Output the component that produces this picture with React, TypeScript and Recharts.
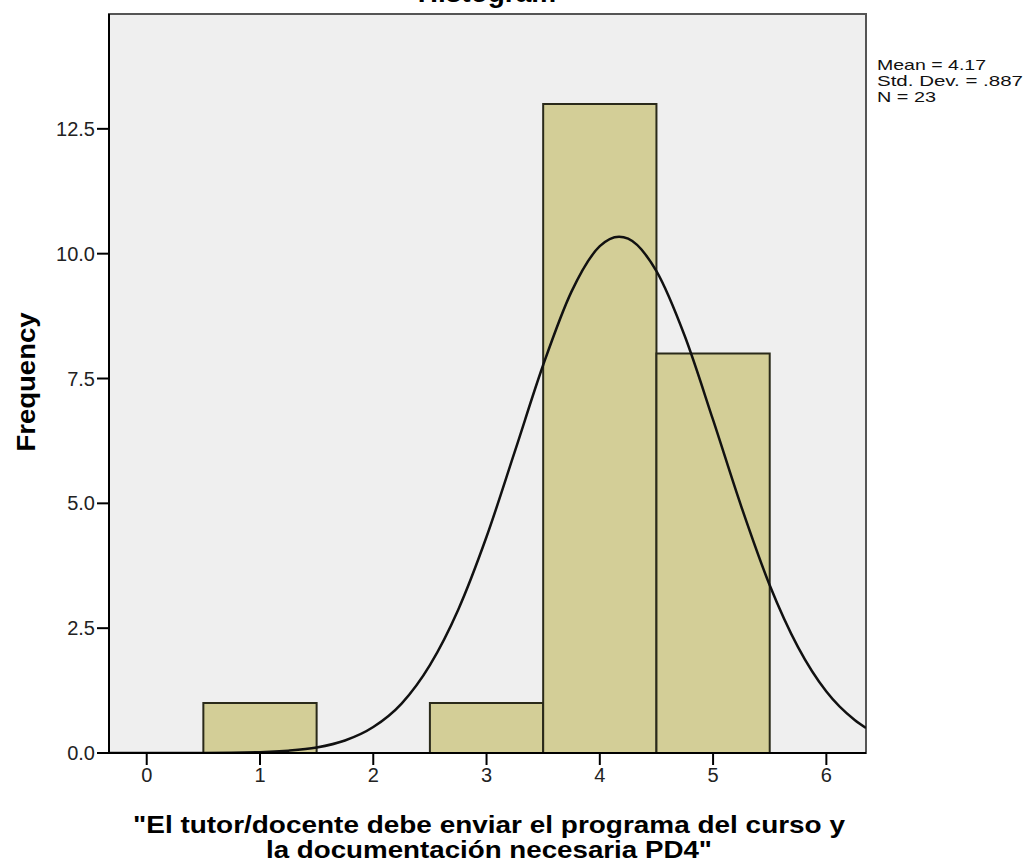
import React from "react";
import {
  ComposedChart,
  Line,
  XAxis,
  YAxis,
  ReferenceArea,
} from "recharts";

// histogram bins (bin centre, count)
const binCenters = [1, 3, 4, 5];
const binCounts = [1, 1, 13, 8];

// normal curve
const curveX = [
  -0.33, 0, 0.5, 1, 1.25, 1.5, 1.75, 2, 2.25, 2.5, 2.75, 3, 3.25, 3.5, 3.75, 4,
  4.17, 4.25, 4.5, 4.75, 5, 5.25, 5.5, 5.75, 6, 6.25, 6.35,
];
const curveY = [
  0, 0, 0.002, 0.017, 0.046, 0.11, 0.25, 0.52, 0.99, 1.76, 2.87, 4.33, 6.04,
  7.77, 9.24, 10.15, 10.34, 10.3, 9.65, 8.35, 6.67, 4.93, 3.36, 2.12, 1.23,
  0.66, 0.5,
];

const xTicks = [0, 1, 2, 3, 4, 5, 6];
const yTicks = [0, 2.5, 5, 7.5, 10, 12.5];
const stats = ["Mean = 4.17", "Std. Dev. = .887", "N = 23"];
const statWidths = [109, 146, 59];
const xTitle = ['"El tutor/docente debe enviar el programa del curso y', 'la documentación necesaria PD4"'];
const xTitleWidths = [712, 446];

const xDomain: [number, number] = [-0.333, 6.35];
const yDomain: [number, number] = [0, 14.8];

const W = 1026;
const H = 864;
const FONT = "'Liberation Sans', Arial, sans-serif";

const curve = curveX.map((x, i) => ({ x, y: curveY[i] }));

export default function App() {
  return (
    <div style={{ position: "absolute", left: 0, top: 0, width: W, height: H, background: "#fff" }}>
      <ComposedChart
        width={W}
        height={H}
        data={curve}
        margin={{ top: 14, right: 160, bottom: 41, left: 29 }}
      >
        <XAxis
          dataKey="x"
          type="number"
          domain={xDomain}
          ticks={xTicks}
          allowDataOverflow
          height={70}
          tickSize={12}
          tickMargin={3}
          axisLine={{ stroke: "#000", strokeWidth: 2 }}
          tickLine={{ stroke: "#000", strokeWidth: 2 }}
          tick={{ fill: "#222", fontSize: 20, fontFamily: FONT }}
        />
        <YAxis
          type="number"
          domain={yDomain}
          ticks={yTicks}
          allowDataOverflow
          width={80}
          tickSize={12}
          tickMargin={2}
          tickFormatter={(v: number) => v.toFixed(1)}
          axisLine={{ stroke: "#000", strokeWidth: 2 }}
          tickLine={{ stroke: "#000", strokeWidth: 2 }}
          tick={{ fill: "#222", fontSize: 20, fontFamily: FONT }}
        />
        <ReferenceArea
          x1={xDomain[0]}
          x2={xDomain[1]}
          y1={yDomain[0]}
          y2={yDomain[1]}
          fill="#efefef"
          fillOpacity={1}
          stroke="#555"
          strokeWidth={2}
        />
        {binCenters.map((c, i) => (
          <ReferenceArea
            key={c}
            x1={c - 0.5}
            x2={c + 0.5}
            y1={0}
            y2={binCounts[i]}
            fill="#d3ce97"
            fillOpacity={1}
            stroke="#2a2a1a"
            strokeWidth={2}
          />
        ))}
        <Line
          dataKey="y"
          type="monotone"
          dot={false}
          stroke="#111"
          strokeWidth={2.5}
          isAnimationActive={false}
        />
      </ComposedChart>
      <svg
        width={W}
        height={H}
        style={{ position: "absolute", left: 0, top: 0, pointerEvents: "none" }}
      >
        <text x={487} y={2} textAnchor="middle" fontFamily={FONT} fontWeight="bold" fontSize={28} fill="#000">
          Histogram
        </text>
        {stats.map((s, i) => (
          <text
            key={s}
            x={877}
            y={70 + i * 16}
            fontFamily={FONT}
            fontSize={15}
            textLength={statWidths[i]}
            lengthAdjust="spacingAndGlyphs"
            fill="#111"
          >
            {s}
          </text>
        ))}
        <text
          transform="translate(35 382) rotate(-90)"
          textAnchor="middle"
          fontFamily={FONT}
          fontWeight="bold"
          fontSize={25}
          textLength={139}
          lengthAdjust="spacingAndGlyphs"
          fill="#000"
        >
          Frequency
        </text>
        {xTitle.map((t, i) => (
          <text
            key={t}
            x={489}
            y={833 + i * 25}
            textAnchor="middle"
            fontFamily={FONT}
            fontWeight="bold"
            fontSize={24}
            textLength={xTitleWidths[i]}
            lengthAdjust="spacingAndGlyphs"
            fill="#000"
          >
            {t}
          </text>
        ))}
      </svg>
    </div>
  );
}
